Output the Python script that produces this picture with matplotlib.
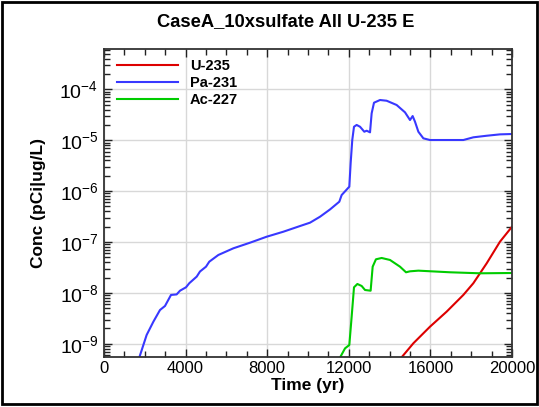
import numpy as np
import matplotlib
matplotlib.use("Agg")
import matplotlib.pyplot as plt
from matplotlib.patches import Rectangle
from matplotlib.ticker import LogLocator, MultipleLocator, NullFormatter

plt.rcParams['font.family'] = ['Liberation Sans', 'DejaVu Sans']
plt.rcParams['mathtext.fontset'] = 'custom'
plt.rcParams['mathtext.rm'] = 'Liberation Sans'
plt.rcParams['mathtext.it'] = 'Liberation Sans'
plt.rcParams['mathtext.bf'] = 'Liberation Sans:bold'

title = "CaseA_10xsulfate All U-235 E"
xlabel = "Time (yr)"
ylabel = "Conc (pCi|ug/L)"

# Pa-231 (time in yr, log10 concentration)
pa_t = [1600, 1730, 2090, 2420, 2745, 2990, 3285, 3560, 3725, 4020, 4180, 4545, 4705,
        5000, 5160, 5605, 6340, 7155, 7975, 8790, 9610, 10100, 10590, 11080, 11535,
        11650, 12025, 12090, 12170, 12255, 12385, 12550, 12760, 12875, 13040, 13120,
        13235, 13530, 13855, 14345, 14755, 15000, 15130, 15245, 15410, 15655, 15980,
        17615, 18105, 18760, 19410, 20000]
pa_logc = [-9.6, -9.27, -8.827, -8.566, -8.336, -8.257, -8.04, -8.03, -7.957, -7.89, -7.81,
           -7.68, -7.58, -7.485, -7.387, -7.255, -7.124, -7.014, -6.896, -6.798, -6.686,
           -6.62, -6.503, -6.36, -6.208, -6.077, -5.913, -5.454, -4.996, -4.735, -4.70,
           -4.735, -4.833, -4.813, -4.845, -4.472, -4.263, -4.21, -4.224, -4.308, -4.452,
           -4.603, -4.525, -4.636, -4.833, -4.963, -4.996, -4.996, -4.943, -4.912, -4.885,
           -4.878]

# Ac-227
ac_t = [11450, 11570, 11815, 12025, 12140, 12255, 12420, 12630, 12795, 13070, 13170,
        13330, 13610, 14020, 14510, 14805, 15000, 15410, 16960, 18430, 20000]
ac_logc = [-9.6, -9.27, -9.09, -9.024, -8.467, -7.89, -7.825, -7.864, -7.943, -7.957,
           -7.485, -7.34, -7.314, -7.353, -7.485, -7.595, -7.576, -7.563, -7.595, -7.615,
           -7.609]

# U-235
u_t = [14300, 14475, 15165, 15980, 16795, 17615, 18105, 18760, 19410, 20000]
u_logc = [-9.6, -9.32, -8.99, -8.664, -8.369, -8.04, -7.81, -7.418, -6.994, -6.70]

series = [("U-235", u_t, u_logc, "#dd0000"),
          ("Pa-231", pa_t, pa_logc, "#3838ff"),
          ("Ac-227", ac_t, ac_logc, "#00cc00")]

fig = plt.figure(figsize=(5.39, 4.07), dpi=100)
ax = fig.add_axes([104/539, 50/407, 408/539, 308/407])

for name, t, lc, col in series:
    ax.plot(t, 10**np.array(lc), color=col, lw=1.5, label=name)

ax.set_yscale('log')
ax.set_xlim(0, 20000)
ax.set_ylim(5.5e-10, 6.2e-4)
ax.xaxis.set_major_locator(MultipleLocator(4000))
ax.xaxis.set_minor_locator(MultipleLocator(1000))
ax.yaxis.set_major_locator(LogLocator(base=10, numticks=20))
ax.yaxis.set_minor_locator(LogLocator(base=10, subs=np.arange(2, 10), numticks=20))
ax.yaxis.set_minor_formatter(NullFormatter())

ax.grid(True, which='major', color='#d8d8d8', lw=1)
ax.set_axisbelow(True)
ax.tick_params(which='both', direction='in', top=True, right=True, color='#222222')
ax.tick_params(which='major', length=6, width=1)
ax.tick_params(which='minor', length=4, width=1)
ax.tick_params(axis='x', labelsize=12, pad=3)
ax.tick_params(axis='y', labelsize=14, pad=4)
for s in ax.spines.values():
    s.set_linewidth(1.3)
    s.set_color('#333333')

fig.text(286/539, 1 - 22/407, title, fontsize=13.2, fontweight='bold',
         ha='center', va='center')
ax.set_xlabel(xlabel, fontsize=12.5, fontweight='bold', labelpad=1)
ax.set_ylabel(ylabel, fontsize=12.5, fontweight='bold')
ax.yaxis.set_label_coords(-0.142, 0.5)

leg = ax.legend(loc='upper left', bbox_to_anchor=(0.0, 1.01), frameon=False,
                prop={'weight': 'bold', 'size': 10.5}, handlelength=4.2,
                handletextpad=0.8, labelspacing=0.2, borderaxespad=0.5)

fig.add_artist(Rectangle((2/539, 3/407), 535/539, 402/407, transform=fig.transFigure,
                         fill=False, edgecolor='black', lw=2))

fig.savefig("out.png", dpi=100)
